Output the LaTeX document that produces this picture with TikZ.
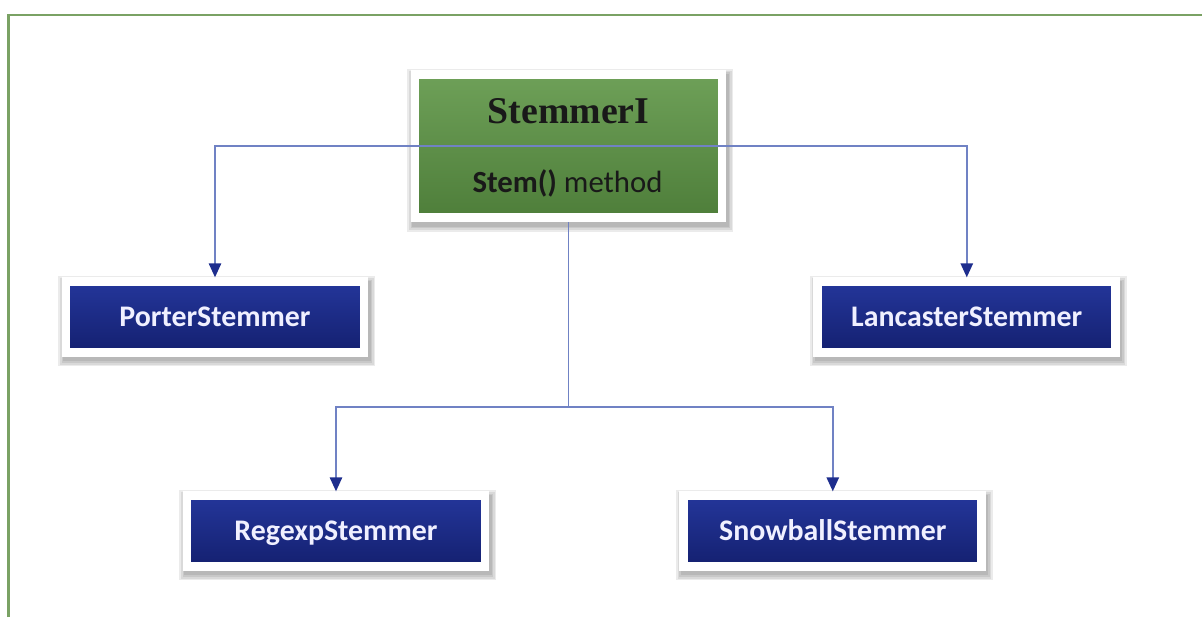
\documentclass[tikz,border=0pt]{standalone}
\usepackage{fontspec}
\setmainfont{Carlito}
\newfontfamily\serifbold{Liberation Serif}
\usetikzlibrary{arrows.meta, positioning, shadows}

\definecolor{framegreen}{RGB}{122,162,100}
\definecolor{greentop}{RGB}{110,160,88}
\definecolor{greenbot}{RGB}{78,126,58}
\definecolor{navytop}{RGB}{36,54,154}
\definecolor{navybot}{RGB}{20,32,112}
\definecolor{linkblue}{RGB}{112,130,196}
\definecolor{tipblue}{RGB}{30,46,142}

\begin{document}
\begin{tikzpicture}[
    node distance=8.9cm,
    tip/.tip={Triangle[length=8pt, width=7pt, color=tipblue]},
    halo/.style={general shadow={shadow xshift=1pt, shadow yshift=-2.5pt,
        fill=black, draw=black, line width=#1, opacity=0.08, rounded corners=2pt}},
    box/.style={
        draw=white,
        line width=5pt,
        inner sep=0pt,
        halo=11pt, halo=9pt, halo=7pt, halo=5.5pt
    },
    baseclass/.style={box, top color=greentop, bottom color=greenbot,
        minimum width=6.14cm, minimum height=2.87cm},
    subclass/.style={box, top color=navytop, bottom color=navybot,
        minimum width=5.96cm, minimum height=1.41cm,
        text=white!94!blue, text height=11pt, text depth=0pt,
        font=\fontsize{17}{20}\selectfont\bfseries},
    conn/.style={draw=linkblue, line width=1.1pt}
]
\useasboundingbox (0,0) rectangle (24.04,12.34);

% frame
\draw[framegreen, line width=1.2pt] (0.17,0) -- (0.17,12.04) -- (24.04,12.04);

% classes
\node[baseclass] (stemmeri) at (11.37,9.42) {};
\node[anchor=base, text=black!90, font=\serifbold\bfseries\fontsize{21.5}{24}\selectfont]
    (stemname) at (11.37,9.88) {StemmerI};
\node[anchor=base, text=black!90, font=\fontsize{17.5}{20}\selectfont]
    (stemmethod) at (11.35,8.50) {\textbf{Stem()} method};

\node[subclass] (porter) at (4.30,6.00) {PorterStemmer};
\node[subclass, right=of porter] (lancaster) {LancasterStemmer};
\node[subclass] (regexp) at (6.72,1.72) {RegexpStemmer};
\node[subclass, right=3.8cm of regexp] (snowball) {SnowballStemmer};

% connectors
\draw[conn, -tip] (stemmeri.center) -| (porter.north);
\draw[conn, -tip] (stemmeri.center) -| (lancaster.north);

\coordinate (fork) at (stemmeri.south |- 0,4.2);
\draw[conn] (stemmeri.south) -- (fork);
\draw[conn, -tip] (fork) -| (regexp.north);
\draw[conn, -tip] (fork) -| (snowball.north);
\end{tikzpicture}
\end{document}
